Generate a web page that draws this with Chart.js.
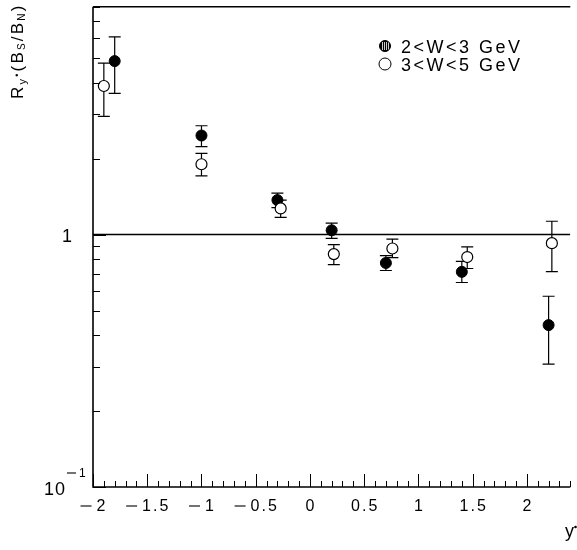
<!DOCTYPE html>
<html>
<head>
<meta charset="utf-8">
<script src="https://cdn.jsdelivr.net/npm/chart.js@4/dist/chart.umd.min.js"></script>
<style>
html,body{margin:0;padding:0;background:#fff;}
canvas{display:block;}
</style>
</head>
<body>
<canvas id="c" width="577" height="550"></canvas>
<script>
// ---- data ----
const filledX  = [-1.8, -1.0, -0.3, 0.2, 0.7, 1.4, 2.2];
const filledY  = [4.87, 2.47, 1.37, 1.04, 0.772, 0.712, 0.438];
const filledLo = [3.63, 2.23, 1.28, 0.967, 0.721, 0.646, 0.307];
const filledHi = [6.07, 2.70, 1.46, 1.11, 0.825, 0.784, 0.57];

const openX  = [-1.9, -1.0, -0.27, 0.22, 0.76, 1.45, 2.23];
const openY  = [3.88, 1.90, 1.27, 0.837, 0.881, 0.815, 0.925];
const openLo = [2.94, 1.71, 1.17, 0.761, 0.811, 0.734, 0.714];
const openHi = [4.78, 2.10, 1.37, 0.913, 0.959, 0.895, 1.13];

const refLineY = 1;
const xMajorTicks = [-2, -1.5, -1, -0.5, 0, 0.5, 1, 1.5, 2];
const xTickLabels = ['\u22122', '\u22121.5', '\u22121', '\u22120.5', '0', '0.5', '1', '1.5', '2'];
const yMajorTicks = [0.1, 1];
const yMinorTicks = [0.2,0.3,0.4,0.5,0.6,0.7,0.8,0.9,2,3,4,5,6,7,8];
const seriesLabels = ['2<W<3 GeV', '3<W<5 GeV'];

const X_MIN = -2, X_MAX = 2.4, Y_MIN = 0.1, Y_MAX = 8;
const FONT = '"Liberation Sans", Arial, Helvetica, sans-serif';

function pts(xs, ys, lo, hi) {
  return xs.map((x, i) => ({x: x, y: ys[i], lo: lo[i], hi: hi[i]}));
}

const errorBars = {
  id: 'errorBars',
  beforeDatasetsDraw(chart) {
    const ctx = chart.ctx;
    const ys = chart.scales.y;
    ctx.save();
    ctx.strokeStyle = '#000';
    ctx.lineWidth = 1.2;
    chart.data.datasets.forEach((ds, di) => {
      if (!ds.errorBars) return;
      const meta = chart.getDatasetMeta(di);
      meta.data.forEach((el, i) => {
        const d = ds.data[i];
        const x = el.x;
        const yt = ys.getPixelForValue(d.hi);
        const yb = ys.getPixelForValue(d.lo);
        ctx.beginPath();
        ctx.moveTo(x, yt); ctx.lineTo(x, yb);
        ctx.moveTo(x - 6, yt); ctx.lineTo(x + 6, yt);
        ctx.moveTo(x - 6, yb); ctx.lineTo(x + 6, yb);
        ctx.stroke();
      });
    });
    ctx.restore();
  }
};

function drawParts(ctx, parts, spacing) {
  let x = 0;
  parts.forEach(p => {
    ctx.font = p.size + 'px ' + FONT;
    ctx.fillText(p.t, x, p.dy || 0);
    x += ctx.measureText(p.t).width + spacing;
  });
}

// draws a number label with a long, detached minus sign (like the original plot)
function labelWidth(ctx, s, minusLen, gap) {
  let neg = s.charAt(0) === '\u2212';
  let body = neg ? s.slice(1) : s;
  let w = ctx.measureText(body).width;
  return neg ? w + minusLen + gap : w;
}
function drawLabel(ctx, s, x, baseline, minusLen, gap, minusRise) {
  let neg = s.charAt(0) === '\u2212';
  let body = neg ? s.slice(1) : s;
  if (neg) {
    ctx.save();
    ctx.strokeStyle = '#000';
    ctx.lineWidth = 1.1;
    ctx.beginPath();
    ctx.moveTo(x, baseline - minusRise);
    ctx.lineTo(x + minusLen, baseline - minusRise);
    ctx.stroke();
    ctx.restore();
    x += minusLen + gap;
  }
  ctx.fillText(body, x, baseline);
}

const frame = {
  id: 'frame',
  afterDraw(chart) {
    const ctx = chart.ctx;
    const xs = chart.scales.x, ys = chart.scales.y;
    const a = chart.chartArea;
    ctx.save();
    ctx.strokeStyle = '#000';
    // axes / frame
    ctx.lineWidth = 1.6;
    ctx.beginPath();
    ctx.moveTo(a.left, a.top); ctx.lineTo(a.right, a.top);
    ctx.moveTo(a.left, a.top); ctx.lineTo(a.left, a.bottom);
    ctx.lineTo(a.right, a.bottom);
    ctx.stroke();
    // x ticks (inward)
    ctx.lineWidth = 1;
    ctx.beginPath();
    for (let k = -20; k <= 24; k++) {
      const v = k / 10;
      const px = Math.round(xs.getPixelForValue(v)) + 0.5;
      const major = (k % 5 === 0);
      ctx.moveTo(px, a.bottom);
      ctx.lineTo(px, a.bottom - (major ? 13 : 6));
    }
    // y ticks
    yMinorTicks.forEach(v => {
      const py = Math.round(ys.getPixelForValue(v)) + 0.5;
      ctx.moveTo(a.left, py); ctx.lineTo(a.left + 7, py);
    });
    yMajorTicks.forEach(v => {
      const py = Math.round(ys.getPixelForValue(v)) + 0.5;
      ctx.moveTo(a.left, py); ctx.lineTo(a.left + 13, py);
    });
    ctx.stroke();

    ctx.fillStyle = '#000';
    ctx.textBaseline = 'alphabetic';
    ctx.textAlign = 'left';
    // x tick labels
    ctx.font = '16px ' + FONT;
    ctx.letterSpacing = '2px';
    xMajorTicks.forEach((v, i) => {
      const px = xs.getPixelForValue(v);
      const w = labelWidth(ctx, xTickLabels[i], 11, 5) - 2;
      drawLabel(ctx, xTickLabels[i], px - w / 2, a.bottom + 24, 11, 5, 5);
    });
    // y tick labels
    ctx.letterSpacing = '1px';
    ctx.font = '18px ' + FONT;
    const y1 = ys.getPixelForValue(1);
    ctx.fillText('1', 62, y1 + 7);
    const y01 = ys.getPixelForValue(0.1);
    ctx.fillText('10', 44, y01 + 8);
    ctx.font = '12px ' + FONT;
    drawLabel(ctx, '\u22121', 67, y01 - 10, 9, 3, 4);
    ctx.letterSpacing = '0px';

    // x title  y*
    ctx.font = '18px ' + FONT;
    ctx.fillText('y', 565, 537);
    ctx.beginPath();
    ctx.arc(575.5, 527, 1.3, 0, Math.PI * 2);
    ctx.fill();

    // y title R_{y*}(B_S/B_N)
    ctx.save();
    ctx.translate(23, 99);
    ctx.rotate(-Math.PI / 2);
    ctx.textAlign = 'left';
    const parts = [
      {t: 'R', size: 17},
      {t: 'y', size: 11, dy: 3},
      {t: '\u2022', size: 9, dy: -3},
      {t: '(', size: 17},
      {t: 'B', size: 17},
      {t: 'S', size: 10, dy: 2},
      {t: '/', size: 17},
      {t: 'B', size: 17},
      {t: 'N', size: 10, dy: 2},
      {t: ')', size: 17}
    ];
    drawParts(ctx, parts, 2.2);
    ctx.restore();

    // legend
    ctx.letterSpacing = '2.5px';
    ctx.font = '18px ' + FONT;
    const lx = 385, ly1 = 46, ly2 = 64;
    ctx.beginPath();
    ctx.arc(lx, ly1, 5.5, 0, Math.PI * 2);
    ctx.fillStyle = '#000';
    ctx.fill();
    ctx.save();
    ctx.beginPath();
    ctx.arc(lx, ly1, 5.5, 0, Math.PI * 2);
    ctx.clip();
    ctx.strokeStyle = '#fff';
    ctx.lineWidth = 0.8;
    ctx.beginPath();
    for (let d = -3; d <= 3; d += 2) {
      ctx.moveTo(lx + d + 0.5, ly1 - 4); ctx.lineTo(lx + d + 0.5, ly1 + 4);
    }
    ctx.stroke();
    ctx.restore();
    ctx.beginPath();
    ctx.arc(lx, ly1, 5.5, 0, Math.PI * 2);
    ctx.strokeStyle = '#000';
    ctx.lineWidth = 1;
    ctx.stroke();
    ctx.beginPath();
    ctx.arc(lx, ly2, 6, 0, Math.PI * 2);
    ctx.stroke();
    ctx.fillStyle = '#000';
    ctx.fillText(seriesLabels[0], 401, ly1 + 7);
    ctx.fillText(seriesLabels[1], 401, ly2 + 7);
    ctx.letterSpacing = '0px';
    ctx.restore();
  }
};

new Chart(document.getElementById('c'), {
  type: 'scatter',
  data: {
    datasets: [
      {
        type: 'line',
        label: 'ref',
        data: [{x: X_MIN, y: refLineY}, {x: X_MAX, y: refLineY}],
        borderColor: '#000',
        borderWidth: 1.5,
        pointRadius: 0,
        order: 3
      },
      {
        label: seriesLabels[0],
        data: pts(filledX, filledY, filledLo, filledHi),
        backgroundColor: '#000',
        borderColor: '#000',
        borderWidth: 1,
        pointRadius: 5.5,
        errorBars: true,
        order: 2
      },
      {
        label: seriesLabels[1],
        data: pts(openX, openY, openLo, openHi),
        backgroundColor: '#fff',
        borderColor: '#000',
        borderWidth: 1.2,
        pointRadius: 5.5,
        errorBars: true,
        order: 1
      }
    ]
  },
  options: {
    responsive: false,
    animation: false,
    devicePixelRatio: 1,
    layout: {padding: {top: 3, left: 0, right: 0, bottom: 0}},
    plugins: {legend: {display: false}, tooltip: {enabled: false}},
    scales: {
      x: {
        type: 'linear', min: X_MIN, max: X_MAX,
        grid: {display: false}, border: {display: false},
        ticks: {display: false},
        afterFit(s) { s.height = 63; }
      },
      y: {
        type: 'logarithmic', min: Y_MIN, max: Y_MAX,
        grid: {display: false}, border: {display: false},
        ticks: {display: false},
        afterFit(s) { s.width = 93; }
      }
    }
  },
  plugins: [errorBars, frame]
});
</script>
</body>
</html>
